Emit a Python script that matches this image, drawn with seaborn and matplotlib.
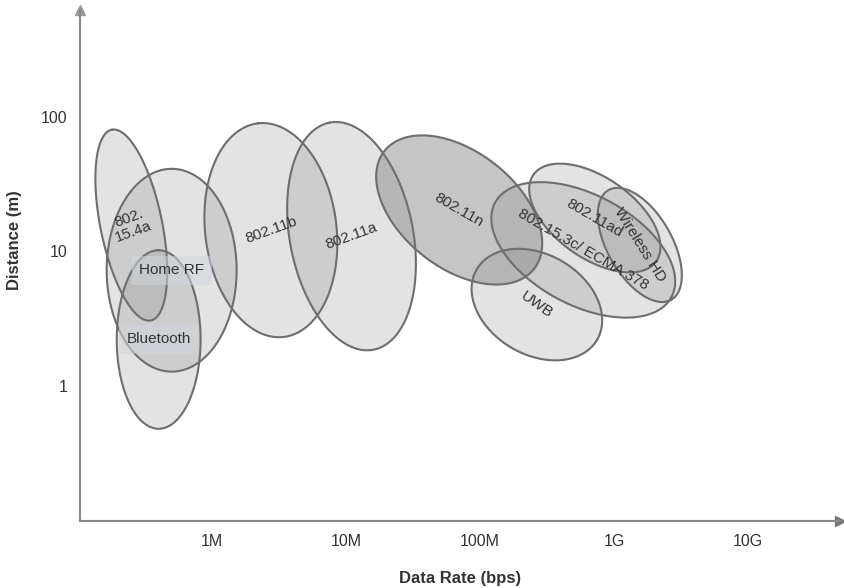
import numpy as np
import matplotlib
matplotlib.use('Agg')
import matplotlib.pyplot as plt
from matplotlib.ticker import NullLocator
import seaborn as sns

# wireless standards: rate/distance coverage drawn as ellipses on log-log axes
names = ['802.\n15.4a', 'Home RF', 'Bluetooth', '802.11b', '802.11a',
         '802.11n', 'UWB', '802.15.3c/ ECMA 378', '802.11ad', 'Wireless HD']
rate_mid = [2.5e5, 5.0e5, 4.0e5, 2.75e6, 1.1e7, 7.0e7, 2.66e8, 5.9e8, 7.2e8, 1.56e9]
dist_mid = [15.6, 7.2, 2.2, 14.3, 12.9, 20.2, 4.0, 10.2, 17.6, 11.1]
# half spans in decades along the long / short axis, and tilt in degrees
major_dec = [0.724, 0.754, 0.664, 0.80, 0.86, 0.71, 0.52, 0.746, 0.56, 0.47]
minor_dec = [0.23, 0.485, 0.313, 0.49, 0.46, 0.433, 0.373, 0.41, 0.30, 0.24]
tilt_deg = [101.6, 90, 90, 97, 101, -38, -30, -28, -35, -60]
label_rot = [20, 0, 0, 20, 20, -30, -35, -30, -30, -58]

rate_ticks = [1e6, 1e7, 1e8, 1e9, 1e10]
rate_labels = ['1M', '10M', '100M', '1G', '10G']
dist_ticks = [1, 10, 100]
dist_labels = ['1', '10', '100']

sns.set_theme(style='white')
plt.rcParams['font.family'] = ['Liberation Sans', 'DejaVu Sans']


def ellipse_points(rate, dist, a, b, ang, n=240):
    t = np.linspace(0, 2 * np.pi, n)
    th = np.radians(ang)
    ex = a * np.cos(t) * np.cos(th) - b * np.sin(t) * np.sin(th)
    ey = a * np.cos(t) * np.sin(th) + b * np.sin(t) * np.cos(th)
    return 10 ** (np.log10(rate) + ex), 10 ** (np.log10(dist) + ey)


fig = plt.figure(figsize=(8.44, 5.88), dpi=100)
ax = fig.add_axes([80 / 844, 67 / 588, 760 / 844, 511 / 588])
ax.set_xscale('log')
ax.set_yscale('log')

for i, name in enumerate(names):
    xs, ys = ellipse_points(rate_mid[i], dist_mid[i], major_dec[i], minor_dec[i], tilt_deg[i])
    alpha = 0.45 if name == '802.11n' else 0.22
    ax.fill(xs, ys, color='#808080', alpha=alpha, lw=0, zorder=2)
    ax.plot(xs, ys, color='#6e6e6e', lw=1.5, zorder=3)

for i, name in enumerate(names):
    box = None
    if label_rot[i] == 0:
        box = dict(boxstyle='square,pad=0.5', fc='#cfd6dc', ec='none', alpha=0.55)
    ax.text(rate_mid[i], dist_mid[i], name, rotation=label_rot[i], ha='center', va='center',
            rotation_mode='anchor', fontsize=11, color='#333333', zorder=4,
            linespacing=1.1, bbox=box)

ax.set_xlim(10 ** 5.015, 10 ** 10.687)
ax.set_ylim(10 ** -1.007, 10 ** 2.792)
ax.set_xticks(rate_ticks, rate_labels)
ax.set_yticks(dist_ticks, dist_labels)
ax.xaxis.set_minor_locator(NullLocator())
ax.yaxis.set_minor_locator(NullLocator())
ax.tick_params(direction='in', length=10, width=1.4, color='#666666',
               labelcolor='#333333', labelsize=11.5, pad=9)

for side in ['top', 'right']:
    ax.spines[side].set_visible(False)
for side in ['left', 'bottom']:
    ax.spines[side].set_color('#888888')
    ax.spines[side].set_linewidth(1.5)
ax.plot(1, 0, '>', color='#777777', ms=7, transform=ax.transAxes, clip_on=False)
ax.plot(0, 1, '^', color='#999999', ms=7, transform=ax.transAxes, clip_on=False)

ax.set_xlabel('Data Rate (bps)', fontsize=12, fontweight='bold', color='#333333', labelpad=16)
ax.set_ylabel('Distance (m)', fontsize=12, fontweight='bold', color='#333333')
ax.yaxis.set_label_coords(-0.076, 0.55)

fig.savefig('out.png', dpi=100)
